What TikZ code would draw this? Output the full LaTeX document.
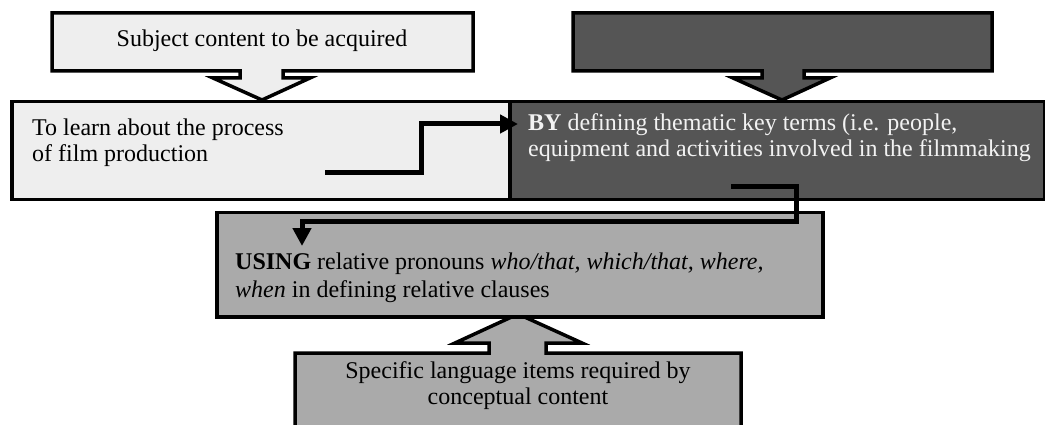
\documentclass[tikz,border=0pt]{standalone}
\usepackage{fontspec}
\setmainfont{Liberation Serif}
\usetikzlibrary{arrows.meta}
\definecolor{lightg}{HTML}{EEEEEE}
\definecolor{darkg}{HTML}{555555}
\definecolor{midg}{HTML}{AAAAAA}
\definecolor{paleg}{HTML}{F2F2F2}
\tikzset{
  outl/.style={draw=black, line width=3.5pt, line join=miter},
  boxnode/.style={outl, rectangle, anchor=north west, inner sep=0pt},
  txt/.style={font=\fontsize{24}{26}\selectfont, inner sep=0pt, align=left},
  conn/.style={line width=5pt, line join=miter, -{Triangle[width=18pt,length=18pt]}},
}
\begin{document}
\begin{tikzpicture}[x=1pt,y=-1pt]
\clip (0,0) rectangle (1045,425);
\fill[white] (0,0) rectangle (1045,425);
% top-left callout
\draw[outl, fill=lightg] (52,13) -- (473,13) -- (473,71) -- (283,71) -- (283,78) -- (310,78) -- (262,100) -- (213,78) -- (240,78) -- (240,71) -- (52,71) -- cycle;
\node[txt, anchor=center] (subj) at (262,41) {Subject content to be acquired};
% top-right callout
\draw[outl, fill=darkg] (573,13) -- (992,13) -- (992,71) -- (804,71) -- (804,78) -- (830,78) -- (782,100) -- (733,78) -- (762,78) -- (762,71) -- (573,71) -- cycle;
% bottom callout
\draw[outl, fill=midg] (295,430) -- (295,353) -- (489,353) -- (489,343) -- (455,343) -- (518,314) -- (582,343) -- (546,343) -- (546,353) -- (741,353) -- (741,430);
\node[txt, align=center, anchor=center] (spec) at (518,386) {Specific language items required by\\conceptual content};
% main boxes
\node[boxnode, fill=lightg, minimum width=498pt, minimum height=98pt] (learn) at (10,100) {};
\node[boxnode, fill=darkg, minimum width=535pt, minimum height=98pt] (by) at (508,100) {};
\node[boxnode, fill=midg, minimum width=606pt, minimum height=104pt] (using) at (215,211) {};
% texts
\node[txt, anchor=north west] (learnt) at (32,119) {To learn about the process\\of film production};
\node[txt, anchor=north west, text=paleg] (byt) at (528,113) {\textbf{BY} defining thematic key terms (i.e. people,\\equipment and activities involved in the filmmaking};
\node[txt, anchor=north west, font=\fontsize{24}{27.5}\selectfont] (usingt) at (235,253) {\textbf{USING} relative pronouns \textit{who/that, which/that, where,}\\\textit{when} in defining relative clauses};
% connectors
\coordinate (c1s) at (325,173);
\coordinate (c1e) at (518,124);
\draw[conn] (c1s) -- (421,173) -- (421,124) -- (c1e);
\coordinate (c2s) at (731,187);
\coordinate (c2e) at (302,246);
\draw[conn] (c2s) -- (796,187) -- (796,222) -- (302,222) -- (c2e);
\end{tikzpicture}
\end{document}
